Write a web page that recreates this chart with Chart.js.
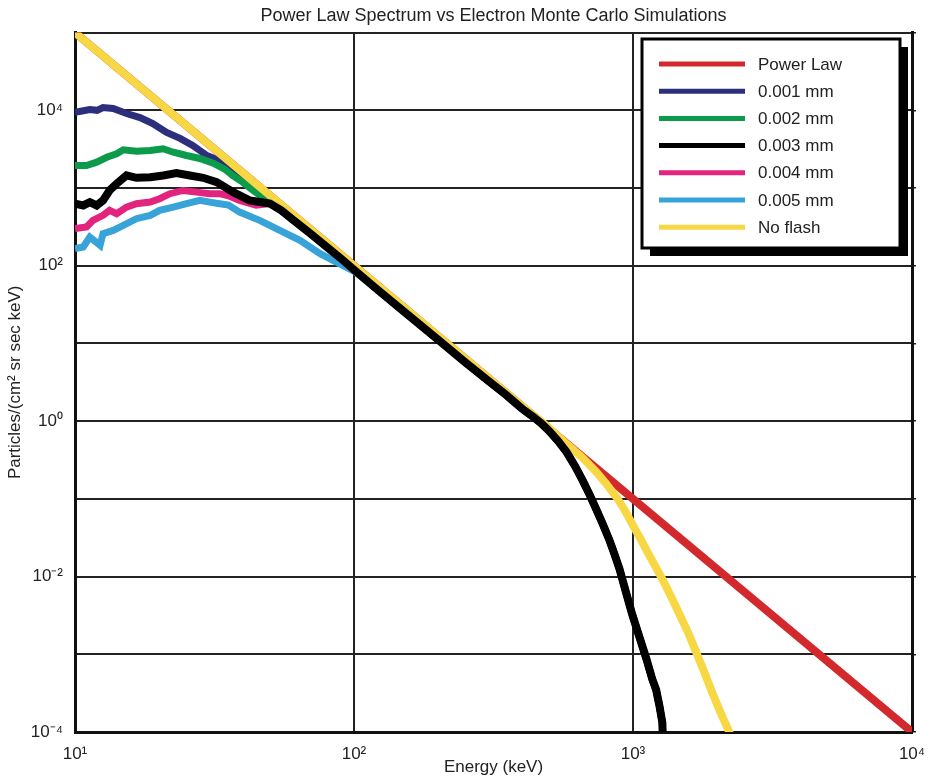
<!DOCTYPE html>
<html><head><meta charset="utf-8">
<script src="https://cdn.jsdelivr.net/npm/chart.js@4.4.0/dist/chart.umd.min.js"></script>
<style>html,body{margin:0;padding:0;background:#fff}#wrap{width:933px;height:778px;position:relative}</style>
</head><body><div id="wrap"><canvas id="c"></canvas></div>
<script>
const chartTitle = 'Power Law Spectrum vs Electron Monte Carlo Simulations';
const xAxisTitle = 'Energy (keV)';
const yAxisTitle = 'Particles/(cm² sr sec keV)';
const seriesLabels = ['Power Law','0.001 mm','0.002 mm','0.003 mm','0.004 mm','0.005 mm','No flash'];
const xTicks = [10, 100, 1000, 10000];
const xTickLabels = ['10¹','10²','10³','10⁴'];
const yTicks = [1e-4, 1e-3, 1e-2, 1e-1, 1, 10, 100, 1e3, 1e4, 1e5];
const yTickLabels = ['10⁻⁴','','10⁻²','','10⁰','','10²','','10⁴',''];

// Power law (straight line on log-log axes)
const powerLawE = [10, 10000];
const powerLawF = [1e5, 1e-4];

// No flash
const noFlashE = [10, 20, 50, 100, 200, 300, 400, 490, 578, 659, 740, 800, 873, 935, 995, 1070, 1145, 1274, 1370, 1466, 1580, 1687, 1800, 1924, 2060, 2213, 2300];
const noFlashF = [1e5, 12500, 800, 100, 12.5, 3.7, 1.56, 0.87, 0.51, 0.34, 0.22, 0.158, 0.105, 0.071, 0.047, 0.0295, 0.0186, 0.0093, 0.0055, 0.0033, 0.00186, 0.00105, 0.00059, 0.00032, 0.000178, 0.0001, 0.00007];

// Monte Carlo low-energy parts
const mm001E = [10, 10.6, 11.3, 12.0, 12.6, 13.7, 15.3, 17.1, 19.0, 21.3, 23.8, 26.4, 29.7, 33.0, 36.8, 40, 45];
const mm001F = [9460, 9800, 10230, 10000, 10860, 10540, 9100, 8070, 6760, 5190, 4350, 3530, 2620, 2260, 1680, 1330, 955];

const mm002E = [10, 11, 11.96, 13.0, 14.1, 14.9, 16.6, 18.6, 20.7, 22.5, 25.1, 28.0, 31.3, 34.5, 36.8, 40, 43.4, 47];
const mm002F = [1950, 1950, 2150, 2490, 2760, 3100, 2980, 3040, 3200, 2890, 2620, 2400, 2090, 1740, 1440, 1180, 940, 760];

const mm003E = [10, 10.7, 11.3, 11.96, 12.6, 13.3, 14.1, 15.3, 16.6, 18.6, 20.7, 23.1, 25.8, 28.8, 32.2, 36.9, 42.2, 46];
const mm003F = [628, 597, 659, 597, 693, 931, 1135, 1452, 1355, 1380, 1452, 1556, 1452, 1355, 1191, 885, 693, 660];

const mm004E = [10, 11, 11.6, 12.6, 13.3, 14.1, 15.3, 16.6, 18.6, 20.1, 21.9, 24.4, 27.3, 30.4, 33.0, 35.5, 38.9, 44.6];
const mm004F = [300, 315, 384, 445, 515, 468, 568, 628, 659, 728, 845, 931, 885, 845, 845, 795, 693, 603];

const mm005E = [10, 10.7, 11.3, 12.3, 12.6, 13.7, 14.9, 16.6, 18.6, 20.1, 22.5, 25.1, 28.0, 30.4, 33.0, 35.5, 38.9, 45.9, 54.2, 64, 75.6, 89, 101];
const mm005F = [166, 174, 234, 183, 258, 285, 330, 403, 445, 515, 568, 628, 693, 659, 628, 603, 490, 384, 285, 212, 143, 106, 83];

// Common Monte Carlo high-energy part (all thicknesses coincide)
const mcTailE = [50, 55, 60, 70, 80, 90, 100, 120, 150, 200, 250, 300, 350, 400, 437, 470, 502, 540, 578, 620, 659, 700, 740, 780, 823, 860, 894, 940, 995, 1055, 1117, 1172, 1210, 1243, 1274, 1290];
const mcTailF = [631, 513, 398, 257, 174, 123, 89, 51, 26.3, 11.2, 5.75, 3.39, 2.19, 1.45, 1.15, 0.93, 0.74, 0.55, 0.40, 0.263, 0.174, 0.112, 0.072, 0.047, 0.0295, 0.019, 0.0126, 0.0066, 0.0032, 0.00166, 0.00087, 0.00048, 0.00035, 0.00022, 0.000132, 0.00003];

const colors = ['#d3282c', '#2d2f7c', '#0c9b4a', '#000000', '#e2247e', '#38a3d9', '#f7d844'];
const FONT = "'Liberation Sans', Arial, Helvetica, sans-serif";

function pts(e, f) { return e.map((x, i) => ({ x: x, y: f[i] })); }
function withTail(e, f, fromE) {
  const te = [], tf = [];
  mcTailE.forEach((x, i) => { if (x >= fromE) { te.push(x); tf.push(mcTailF[i]); } });
  return pts(e.concat(te), f.concat(tf));
}

function ds(i, data, width, order) {
  return { label: seriesLabels[i], data: data, borderColor: colors[i], backgroundColor: colors[i],
    borderWidth: width, pointRadius: 0, pointHoverRadius: 0, showLine: true, fill: false, tension: 0, order: order };
}

const datasets = [
  ds(0, pts(powerLawE, powerLawF), 8, 7),
  ds(1, withTail(mm001E, mm001F, 50), 7, 6),
  ds(2, withTail(mm002E, mm002F, 50), 7, 5),
  ds(3, withTail(mm003E, mm003F, 50), 8, 1),
  ds(4, withTail(mm004E, mm004F, 50), 7, 4),
  ds(5, withTail(mm005E, mm005F, 120), 7, 3),
  ds(6, pts(noFlashE, noFlashF), 8, 2)
];

const boxLegend = {
  id: 'boxLegend',
  afterDraw(chart) {
    const ctx = chart.ctx;
    const L = 642, T = 39, R = 900, B = 248;
    ctx.save();
    ctx.fillStyle = '#000';
    ctx.fillRect(L + 8, T + 8, R - L, B - T);
    ctx.fillStyle = '#fff';
    ctx.fillRect(L, T, R - L, B - T);
    ctx.lineWidth = 3;
    ctx.strokeStyle = '#000';
    ctx.strokeRect(L, T, R - L, B - T);
    ctx.font = '17px ' + FONT;
    ctx.textBaseline = 'middle';
    ctx.textAlign = 'left';
    chart.data.datasets.forEach((d, i) => {
      const y = 64 + i * 27.2;
      ctx.strokeStyle = d.borderColor;
      ctx.lineWidth = 5;
      ctx.beginPath();
      ctx.moveTo(659, y);
      ctx.lineTo(745, y);
      ctx.stroke();
      ctx.fillStyle = '#222';
      ctx.fillText(d.label, 758, y + 1);
    });
    ctx.restore();
  }
};

const gridCommon = { color: '#222', lineWidth: 2, drawTicks: false };

new Chart(document.getElementById('c'), {
  type: 'scatter',
  data: { datasets: datasets },
  options: {
    responsive: true,
    maintainAspectRatio: false,
    animation: false,
    layout: { padding: 0 },
    plugins: {
      legend: { display: false },
      tooltip: { enabled: false },
      title: { display: true, fullSize: false, text: chartTitle, color: '#222', font: { family: FONT, size: 18, weight: 'normal' }, padding: { top: 5, bottom: 6 } }
    },
    scales: {
      x: {
        type: 'logarithmic', position: 'bottom', min: 10, max: 10000,
        afterBuildTicks: s => { s.ticks = xTicks.map(v => ({ value: v })); },
        ticks: { callback: (v, i) => xTickLabels[i], autoSkip: false, maxRotation: 0, padding: 7, color: '#222', font: { family: FONT, size: 17, lineHeight: 1.8 } },
        grid: gridCommon,
        border: { color: '#111', width: 3 },
        title: { display: true, text: xAxisTitle, color: '#222', font: { family: FONT, size: 17 }, padding: { top: 0, bottom: 0 } },
        afterFit: s => { s.height = 46; }
      },
      y: {
        type: 'logarithmic', position: 'left', min: 1e-4, max: 1e5,
        afterBuildTicks: s => { s.ticks = yTicks.map(v => ({ value: v })); },
        ticks: { callback: (v, i) => yTickLabels[i], autoSkip: false, padding: 12, color: '#222', font: { family: FONT, size: 17 } },
        grid: gridCommon,
        border: { color: '#111', width: 3 },
        title: { display: true, text: yAxisTitle, color: '#222', font: { family: FONT, size: 17 }, padding: { top: 5, bottom: 0 } },
        afterFit: s => { s.width = 75; }
      },
      y2: {
        type: 'logarithmic', position: 'right', min: 1e-4, max: 1e5,
        afterBuildTicks: s => { s.ticks = yTicks.map(v => ({ value: v })); },
        ticks: { display: false },
        grid: { drawOnChartArea: false, drawTicks: true, tickLength: 4, color: '#222', lineWidth: 1.5 },
        border: { color: '#111', width: 3 },
        afterFit: s => { s.width = 21; }
      }
    }
  },
  plugins: [boxLegend]
});
</script>
</body></html>
